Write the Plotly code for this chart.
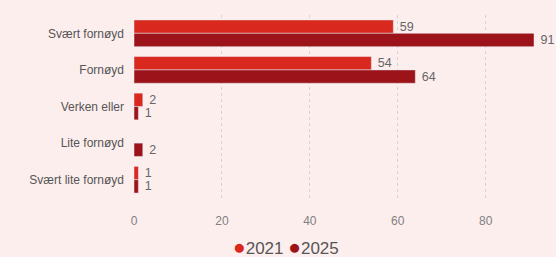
import plotly.graph_objects as go

categories = ["Svært fornøyd", "Fornøyd", "Verken eller", "Lite fornøyd", "Svært lite fornøyd"]
values_2021 = [59, 54, 2, None, 1]
values_2025 = [91, 64, 1, 2, 1]
x_ticks = [0, 20, 40, 60, 80]
series = [("2021", values_2021, "#d9281e"), ("2025", values_2025, "#9c1419")]

fig = go.Figure()
for name, vals, color in series:
    fig.add_trace(go.Bar(
        y=categories, x=vals, orientation="h", name=name,
        marker_color=color, text=vals, texttemplate="\u00a0%{x}",
        textposition="outside", constraintext="none",
        textfont=dict(color="#666666", size=12.5), cliponaxis=False,
        showlegend=False,
    ))

legend_text = "\u00a0".join(
    f"<span style='color:{color};font-size:21px'>●</span>{name}" for name, _, color in series
)
fig.add_annotation(
    text=legend_text, showarrow=False, font=dict(size=17, color="#555555"),
    xref="paper", yref="paper",
    x=(285.5 - 134) / 411, y=-(247 - 198.25) / 183.75,
    xanchor="center", yanchor="middle",
)

fig.update_layout(
    width=556, height=257,
    barmode="group", bargap=0.27, bargroupgap=0,
    paper_bgcolor="#fdeeee", plot_bgcolor="#fdeeee",
    margin=dict(l=134, r=11, t=15, b=59, autoexpand=False),
    font=dict(family="Liberation Sans, Arial, sans-serif", color="#555555", size=12),
    xaxis=dict(range=[0, 93.5], tickvals=x_ticks, showgrid=True,
               gridcolor="#dcd0d0", griddash="dot", gridwidth=1,
               zeroline=False, tickfont=dict(color="#808080", size=12),
               ticks="", ticklabelstandoff=14, automargin=False),
    yaxis=dict(autorange="reversed", ticks="", showgrid=False, automargin=False,
               tickfont=dict(color="#555555", size=12), ticklabelstandoff=9),
    showlegend=False,
)

fig.write_html("out.html", config={"displayModeBar": False},
               post_script="document.body.style.margin='0';")
